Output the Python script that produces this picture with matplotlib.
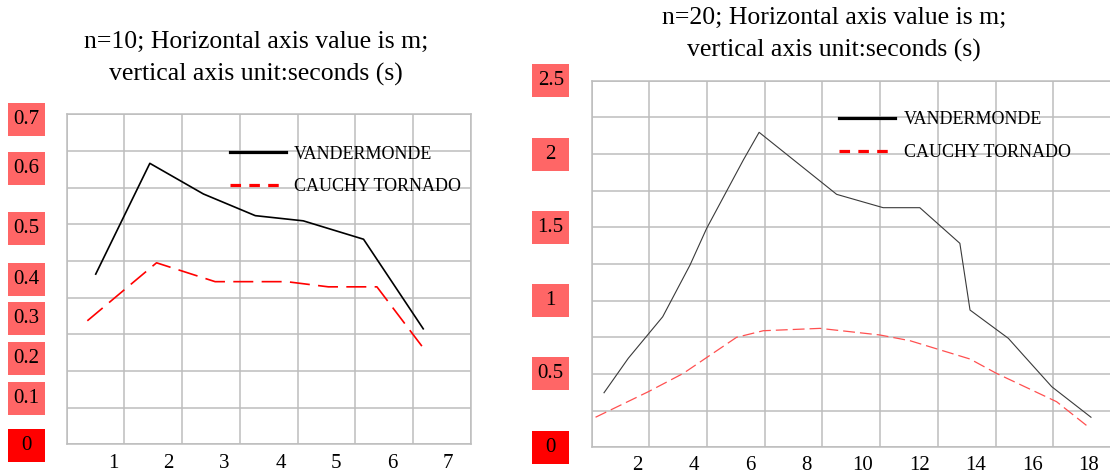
import matplotlib
matplotlib.use('Agg')
import matplotlib.pyplot as plt
import matplotlib.transforms as mtransforms
from matplotlib.patches import Rectangle

plt.rcParams['font.family'] = ['Liberation Serif', 'DejaVu Serif']

# n=10 panel (m, seconds)
m10_vand = [0.69, 1.66, 2.62, 3.55, 4.41, 5.49, 6.56]
t10_vand = [0.361, 0.596, 0.531, 0.485, 0.474, 0.435, 0.245]
m10_cauchy = [0.54, 1.78, 2.83, 4.11, 4.86, 5.73, 6.55]
t10_cauchy = [0.262, 0.385, 0.345, 0.345, 0.334, 0.334, 0.206]
xt10 = [1, 2, 3, 4, 5, 6, 7]
yl10 = ['0.7', '0.6', '0.5', '0.4', '0.3', '0.2', '0.1', '0']

# n=20 panel
m20_vand = [0.82, 1.68, 2.90, 3.87, 4.46, 5.76, 6.32, 9.07, 10.72, 12.02,
            13.44, 13.80, 15.16, 15.69, 16.70, 18.09]
t20_vand = [0.372, 0.607, 0.890, 1.243, 1.493, 1.959, 2.148, 1.725, 1.634, 1.634,
            1.391, 0.936, 0.743, 0.629, 0.413, 0.205]
m20_cauchy = [0.52, 2.39, 3.63, 5.52, 6.47, 8.48, 10.6, 11.67, 13.80, 14.74, 16.87, 18.03]
t20_cauchy = [0.205, 0.379, 0.504, 0.75, 0.795, 0.811, 0.766, 0.727, 0.602, 0.504, 0.311, 0.134]
xt20 = [2, 4, 6, 8, 10, 12, 14, 16, 18]
yt20 = [2.5, 2, 1.5, 1, 0.5, 0]
yl20 = ['2.5', '2', '1.5', '1', '0.5', '0']

# layout (pixels of the 1110x476 picture)
W, H = 1110, 476
yl10_pos = [0.688, 0.584, 0.458, 0.350, 0.266, 0.182, 0.098, -0.003]
GRID = '#bdbdbd'
BOX = '#ff6666'

fig = plt.figure(figsize=(W / 100, H / 100), dpi=100)


def add_panel(left, top, right, bottom):
    return fig.add_axes([left / W, 1 - bottom / H, (right - left) / W, (bottom - top) / H])


def style_panel(ax, xlim, ylim, xgrid_step, nx, ny, xticks, pad):
    ax.set_xlim(*xlim)
    ax.set_ylim(*ylim)
    ax.set_xticks([xlim[0] + xgrid_step * k for k in range(nx + 1)], minor=True)
    ax.set_yticks([ylim[0] + (ylim[1] - ylim[0]) / ny * k for k in range(ny + 1)], minor=True)
    ax.set_xticks(xticks)
    ax.set_yticks([])
    ax.tick_params(which='both', length=0, labelsize=15, pad=pad)
    ax.grid(which='minor', color=GRID, lw=1.1)
    ax.grid(which='major', visible=False)
    for s in ax.spines.values():
        s.set_color(GRID)
        s.set_linewidth(1.1)
    ax.set_axisbelow(True)


def label_boxes(ax, pos, labels, x0, x1):
    trans = mtransforms.blended_transform_factory(fig.transFigure, ax.transData)
    lo, hi = ax.get_ylim()
    h = 33 / (ax.get_position().height * H) * (hi - lo)
    for v, s in zip(pos, labels):
        c = '#ff0000' if s == '0' else BOX
        fig.add_artist(Rectangle((x0 / W, v - h / 2), (x1 - x0) / W, h, transform=trans,
                                 facecolor=c, edgecolor='none', clip_on=False))
        fig.text((x0 + x1) / 2 / W, v, s, transform=trans, ha='center', va='center', fontsize=15)


def legend(ax, anchor):
    leg = ax.legend(loc='upper left', bbox_to_anchor=anchor, frameon=False, fontsize=13,
                    handlelength=3.1, handletextpad=0.45, labelspacing=0.85, borderpad=0,
                    borderaxespad=0)
    hs = leg.legend_handles
    hs[0].set_color('black')
    hs[0].set_linewidth(2.3)
    hs[1].set_color('#ff0000')
    hs[1].set_linewidth(2.3)
    hs[1].set_dashes([3.3, 2.6])


# left panel, n=10
ax1 = add_panel(66.7, 114.3, 471, 444.3)
ax1.plot(m10_vand, t10_vand, color='black', lw=1.2, label='VANDERMONDE')
ax1.plot(m10_cauchy, t10_cauchy, color='#ff0000', lw=1.2, dashes=(12, 5), label='CAUCHY TORNADO')
style_panel(ax1, (0.170, 7.416), (0, 0.7), 1.0351, 7, 9, xt10, 7)
label_boxes(ax1, yl10_pos, yl10, 8.3, 45)
legend(ax1, (0.404, 0.905))
fig.text(256 / W, 1 - 58.5 / H, 'n=10; Horizontal axis value is m;\nvertical axis unit:seconds (s)',
         ha='center', va='center', fontsize=18.5, linespacing=1.55)

# right panel, n=20
ax2 = add_panel(591.7, 80.7, 1111, 447.3)
ax2.plot(m20_vand, t20_vand, color='#3a3a3a', lw=0.8, label='VANDERMONDE')
ax2.plot(m20_cauchy, t20_cauchy, color='#ff5050', lw=0.9, dashes=(9.5, 4), label='CAUCHY TORNADO')
style_panel(ax2, (0.383, 18.80), (0, 2.5), 2.046, 9, 10, xt20, 6)
label_boxes(ax2, yt20, yl20, 532.4, 569)
legend(ax2, (0.477, 0.916))
fig.text(834 / W, 1 - 34.5 / H, 'n=20; Horizontal axis value is m;\nvertical axis unit:seconds (s)',
         ha='center', va='center', fontsize=18.5, linespacing=1.55)

fig.savefig('out.png', dpi=100)
